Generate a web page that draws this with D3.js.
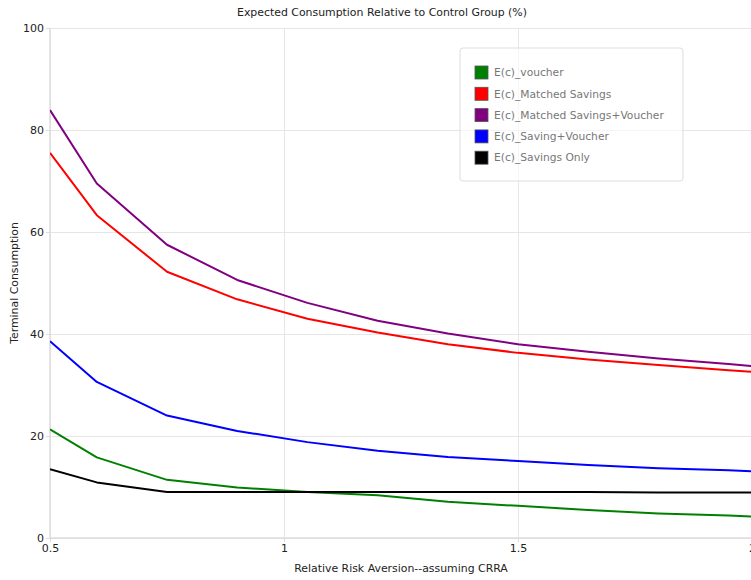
<!DOCTYPE html>
<html>
<head>
<meta charset="utf-8">
<script src="https://cdn.jsdelivr.net/npm/d3@7"></script>
<style>
  html, body { margin: 0; padding: 0; background: #fff; }
  svg { display: block; font-family: "DejaVu Sans", Verdana, sans-serif; }
</style>
</head>
<body>
<div id="chart"></div>
<script>
// --- data ---
const rra = [0.5, 0.6, 0.75, 0.9, 1.05, 1.2, 1.35, 1.5, 1.65, 1.8, 1.95, 2.0];

const voucher       = [21.3, 15.8, 11.4, 9.9, 9.0, 8.4, 7.1, 6.3, 5.5, 4.8, 4.4, 4.2];
const matched       = [75.5, 63.3, 52.2, 46.8, 43.0, 40.3, 38.0, 36.3, 35.0, 33.9, 32.9, 32.6];
const matchedVouch  = [83.9, 69.5, 57.5, 50.6, 46.1, 42.6, 40.1, 38.0, 36.5, 35.2, 34.1, 33.7];
const savingVouch   = [38.6, 30.6, 24.0, 21.0, 18.8, 17.1, 15.9, 15.1, 14.3, 13.7, 13.3, 13.1];
const savingsOnly   = [13.5, 10.9, 9.0, 9.0, 9.0, 9.0, 9.0, 9.0, 9.0, 8.9, 8.9, 8.9];

const seriesNames  = ["E(c)_voucher", "E(c)_Matched Savings", "E(c)_Matched Savings+Voucher", "E(c)_Saving+Voucher", "E(c)_Savings Only"];
const seriesColors = ["green", "red", "purple", "blue", "black"];
const seriesValues = [voucher, matched, matchedVouch, savingVouch, savingsOnly];

const xTicks = [0.5, 1, 1.5, 2];
const yTicks = [0, 20, 40, 60, 80, 100];

const W = 751, H = 580;
const margin = { top: 28, right: -1, bottom: 42, left: 50 };
const innerW = W - margin.left - margin.right;
const innerH = H - margin.top - margin.bottom;

const svg = d3.select("#chart").append("svg")
  .attr("width", W)
  .attr("height", H);

const x = d3.scaleLinear().domain([0.5, 2]).range([0, innerW]);
const y = d3.scaleLinear().domain([0, 100]).range([innerH, 0]);

const g = svg.append("g").attr("transform", `translate(${margin.left},${margin.top})`);

svg.append("defs").append("clipPath").attr("id", "clip")
  .append("rect").attr("width", innerW).attr("height", innerH + 2).attr("y", -1);

// gridlines
g.append("g")
  .attr("transform", `translate(0,${innerH})`)
  .call(d3.axisBottom(x).tickValues(xTicks).tickSize(-innerH).tickFormat(""))
  .call(ax => ax.select(".domain").remove())
  .call(ax => ax.selectAll(".tick line").attr("stroke", "#e6e6e6"));

g.append("g")
  .call(d3.axisLeft(y).tickValues(yTicks).tickSize(-innerW).tickFormat(""))
  .call(ax => ax.select(".domain").remove())
  .call(ax => ax.selectAll(".tick line").attr("stroke", "#e6e6e6"));

// axis lines (zero lines)
g.append("line").attr("x1", 0).attr("x2", 0).attr("y1", 0).attr("y2", innerH)
  .attr("stroke", "#dcdcdc").attr("stroke-width", 1.5);
g.append("line").attr("x1", 0).attr("x2", innerW).attr("y1", innerH).attr("y2", innerH)
  .attr("stroke", "#dcdcdc").attr("stroke-width", 1.5);

// axes with tick labels
g.append("g")
  .attr("transform", `translate(0,${innerH})`)
  .call(d3.axisBottom(x).tickValues(xTicks).tickSize(4).tickPadding(2).tickFormat(d3.format("")))
  .call(ax => ax.select(".domain").remove())
  .call(ax => ax.selectAll(".tick line").attr("stroke", "#dcdcdc"))
  .call(ax => ax.selectAll("text").attr("font-size", 11).attr("fill", "#222")
    .attr("font-family", "DejaVu Sans, Verdana, sans-serif"));

g.append("g")
  .call(d3.axisLeft(y).tickValues(yTicks).tickSize(4).tickPadding(2))
  .call(ax => ax.select(".domain").remove())
  .call(ax => ax.selectAll(".tick line").attr("stroke", "#dcdcdc"))
  .call(ax => ax.selectAll("text").attr("font-size", 11).attr("fill", "#222")
    .attr("font-family", "DejaVu Sans, Verdana, sans-serif"));

// lines
const line = d3.line()
  .x((d, i) => x(rra[i]))
  .y(d => y(d));

g.append("g").attr("clip-path", "url(#clip)")
  .selectAll("path")
  .data(seriesValues)
  .join("path")
    .attr("d", line)
    .attr("fill", "none")
    .attr("stroke", (d, i) => seriesColors[i])
    .attr("stroke-width", 2)
    .attr("stroke-linejoin", "round");

// titles
svg.append("text")
  .attr("x", 382)
  .attr("y", 16)
  .attr("text-anchor", "middle")
  .attr("font-size", 10.9)
  .attr("fill", "#222")
  .text("Expected Consumption Relative to Control Group (%)");

svg.append("text")
  .attr("x", margin.left + innerW / 2)
  .attr("y", 572)
  .attr("text-anchor", "middle")
  .attr("font-size", 10.9)
  .attr("fill", "#222")
  .text("Relative Risk Aversion--assuming CRRA");

svg.append("text")
  .attr("transform", `translate(18,${margin.top + innerH / 2}) rotate(-90)`)
  .attr("text-anchor", "middle")
  .attr("font-size", 10.9)
  .attr("fill", "#222")
  .text("Terminal Consumption");

// legend
const legend = svg.append("g").attr("transform", "translate(460,48)");
legend.append("rect")
  .attr("width", 223).attr("height", 133)
  .attr("rx", 3)
  .attr("fill", "#fff").attr("fill-opacity", 0.6)
  .attr("stroke", "#dddddd");

const item = legend.selectAll("g.item")
  .data(seriesNames)
  .join("g")
    .attr("class", "item")
    .attr("transform", (d, i) => `translate(15,${24.5 + i * 21.3})`);

item.append("rect")
  .attr("x", 0).attr("y", -6.5)
  .attr("width", 13).attr("height", 13)
  .attr("fill", (d, i) => seriesColors[i])
  .attr("stroke", "#555").attr("stroke-width", 0.8);

item.append("text")
  .attr("x", 19)
  .attr("dy", "0.35em")
  .attr("font-size", 10.7)
  .attr("fill", "#777")
  .text(d => d);
</script>
</body>
</html>
